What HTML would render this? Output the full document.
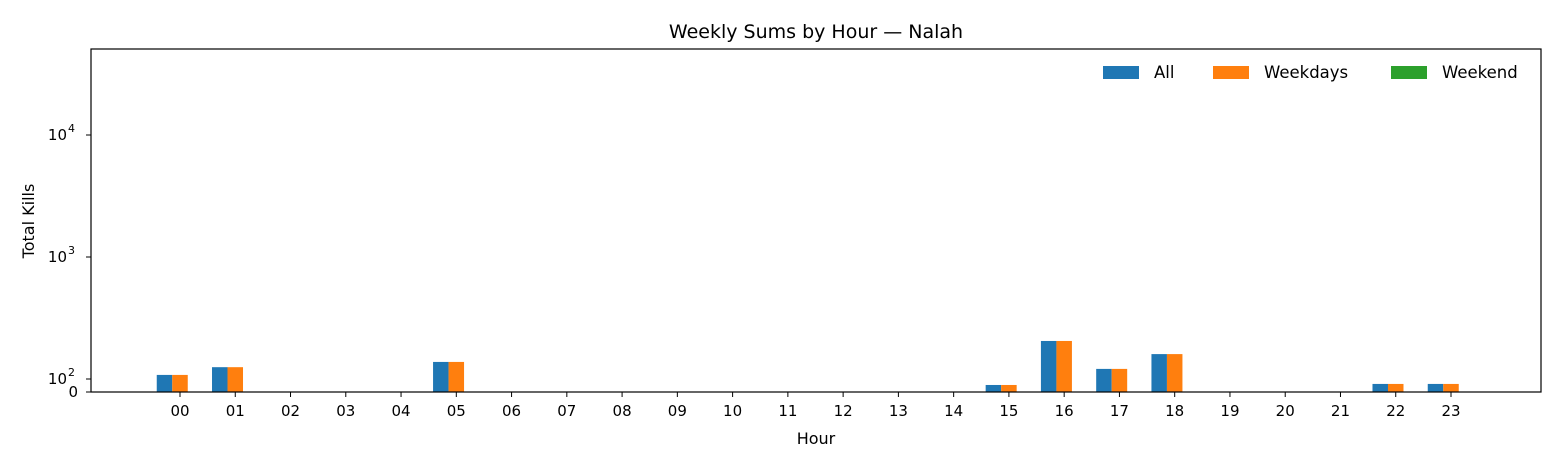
<!DOCTYPE html>
<html><head><meta charset="utf-8"><style>
body{margin:0;background:#fff;}
svg text{font-family:"DejaVu Sans","Liberation Sans",sans-serif;}
</style></head><body>
<svg id="chart" width="1560" height="468" viewBox="0 0 1560 468">
<rect width="1560" height="468" fill="#fff"/>
<text x="816" y="38" font-size="19" text-anchor="middle">Weekly Sums by Hour — Nalah</text>
<g id="bars"></g>
<g id="xticks"></g>
<g id="yticks"></g>
<rect x="91" y="49" width="1450" height="343" fill="none" stroke="#000" stroke-width="1.2"/>
<text x="816" y="444" font-size="16" text-anchor="middle">Hour</text>
<text transform="translate(34,221) rotate(-90)" font-size="16" text-anchor="middle">Total Kills</text>
<g>
<g><rect x="1103" y="66" width="36" height="13" fill="#1f77b4"/><text x="1154" y="78" font-size="16.5">All</text></g>
<g><rect x="1213" y="66" width="36" height="13" fill="#ff7f0e"/><text x="1264" y="78" font-size="16.5">Weekdays</text></g>
<g><rect x="1391" y="66" width="36" height="13" fill="#2ca02c"/><text x="1442" y="78" font-size="16.5">Weekend</text></g>
</g>
</svg>
<script>
const hours=["00","01","02","03","04","05","06","07","08","09","10","11","12","13","14","15","16","17","18","19","20","21","22","23"];
const allVals=[108,125,0,0,0,138,0,0,0,0,0,0,0,0,0,54,205,121,160,0,0,0,62,62];
const weekdayVals=[108,125,0,0,0,138,0,0,0,0,0,0,0,0,0,54,205,121,160,0,0,0,62,62];
const weekendVals=[0,0,0,0,0,0,0,0,0,0,0,0,0,0,0,0,0,0,0,0,0,0,0,0];
const yTickVals=[0,100,1000,10000];
const yTickLabels=["0","10","10","10"];
const yTickExps=["","2","3","4"];
const NS="http://www.w3.org/2000/svg";
function xPos(i){return 180+i*(1451-180)/23;}
function yPos(v){if(v<=0)return 392;if(v<100)return 392-13*v/100;return 379-122*Math.log10(v/100);}
function mk(t,a,p){const e=document.createElementNS(NS,t);for(const k in a)e.setAttribute(k,a[k]);p.appendChild(e);return e;}
const bw=15.5;
const bars=document.getElementById('bars');
const series=[[allVals,"#1f77b4",-1,"all"],[weekdayVals,"#ff7f0e",0,"weekdays"],[weekendVals,"#2ca02c",1,"weekend"]];
series.forEach(s=>{s[0].forEach((v,i)=>{const y=yPos(v);const cx=xPos(i)+s[2]*bw;
const r=mk('rect',{x:cx-bw/2,y:y,width:bw,height:392-y,fill:s[1]},bars);

});});
const xt=document.getElementById('xticks');
hours.forEach((h,i)=>{const x=xPos(i);mk('line',{x1:x,x2:x,y1:392,y2:397,stroke:'#000'},xt);
const t=mk('text',{x:x,y:416,'font-size':15,'text-anchor':'middle'},xt);t.textContent=h;

});
const yt=document.getElementById('yticks');
yTickVals.forEach((v,i)=>{const y=yPos(v);mk('line',{x1:86,x2:91,y1:y,y2:y,stroke:'#000'},yt);
const t=mk('text',{x:yTickExps[i]?67:78,y:y+5,'font-size':15,'text-anchor':'end'},yt);t.textContent=yTickLabels[i];


if(yTickExps[i]){const s=mk('text',{x:68,y:y-3,'font-size':11},yt);s.textContent=yTickExps[i];}});
</script>
</body></html>
